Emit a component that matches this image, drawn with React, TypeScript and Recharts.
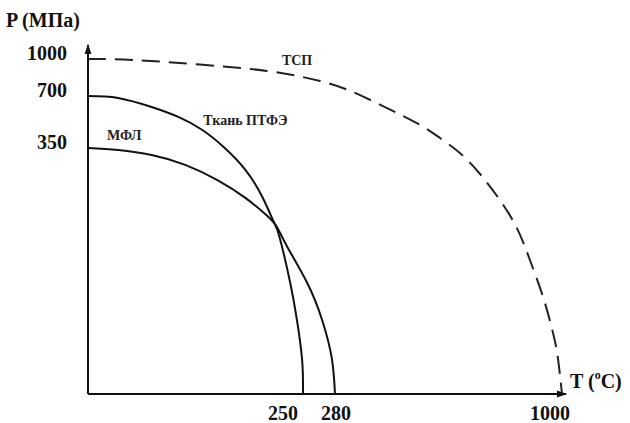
import React from "react";
import { LineChart, Line, XAxis, YAxis, LabelList } from "recharts";

// Schematic axes: tick values and where they sit on the (non-linear) axes
const T_KNOTS = [0, 250, 280, 1000];
const P_KNOTS = [0, 350, 700, 1000];
const X_TICK_LABELS = [250, 280, 1000];
const Y_TICK_LABELS = [350, 700, 1000];

// Series: temperature (°C) and pressure (MPa)
const tkanT = [0, 35, 74, 105, 133, 159, 183, 202, 216, 223, 235, 243, 249, 250];
const tkanP = [700, 687, 626, 559, 471, 350, 319, 282, 245, 222, 159, 105, 48, 0];

const mflT = [0, 35, 74, 113, 151, 183, 206, 219, 231, 254, 268, 277, 280];
const mflP = [350, 347, 340, 326, 304, 279, 256, 239, 211, 158, 105, 51, 0];

const tspT = [0, 52, 130, 208, 266, 337, 445, 550, 613, 676, 740, 803, 857, 898, 940, 971, 987, 1000];
const tspP = [1000, 992, 955, 903, 822, 732, 619, 505, 417, 343, 313, 276, 236, 191, 138, 88, 51, 0];

// layout of the schematic (display units on each axis)
const X_POS = [0, 215, 247, 474];
const Y_POS = [0, 246, 298, 335];

const piece = (v: number, k: number[], p: number[]) => {
  for (let i = 1; i < k.length; i++) {
    if (v <= k[i]) {
      return p[i - 1] + ((v - k[i - 1]) / (k[i] - k[i - 1])) * (p[i] - p[i - 1]);
    }
  }
  return p[p.length - 1];
};
const mapT = (t: number) => piece(t, T_KNOTS, X_POS);
const mapP = (v: number) => piece(v, P_KNOTS, Y_POS);

const build = (ts: number[], ps: number[]) => ts.map((t, i) => ({ x: mapT(t), y: mapP(ps[i]) }));
const tkanData = build(tkanT, tkanP);
const mflData = build(mflT, mflP);
const tspData = build(tspT, tspP);

const FONT = '"Liberation Serif", "Times New Roman", serif';

const X_DX = [-20, 1, -12];

const XTick = (props: any) => {
  const { x, y, index } = props;
  return (
    <text x={x + X_DX[index]} y={y + 18} textAnchor="middle" fontFamily={FONT} fontWeight="bold" fontSize={20} fill="#111">
      {X_TICK_LABELS[index]}
    </text>
  );
};

const YTick = (props: any) => {
  const { x, y, index } = props;
  return (
    <text x={x - 13} y={y + 1} textAnchor="end" fontFamily={FONT} fontWeight="bold" fontSize={20} fill="#111">
      {Y_TICK_LABELS[index]}
    </text>
  );
};

const seriesLabel = (text: string, idx: number, dx: number, dy: number) => (props: any) =>
  props.index === idx ? (
    <text x={props.x + dx} y={props.y + dy} fontFamily={FONT} fontWeight="bold" fontSize={14} fill="#222">
      {text}
    </text>
  ) : null;

export default function App() {
  return (
    <div style={{ position: "absolute", left: 0, top: 0, width: 630, height: 423, background: "#fff" }}>
      <svg width={0} height={0} style={{ position: "absolute" }}>
        <defs>
          <marker id="arrowHead" markerWidth={10} markerHeight={8} refX={9} refY={4} orient="auto-start-reverse" markerUnits="userSpaceOnUse">
            <path d="M0,0.5 L10,4 L0,7.5 z" fill="#111" />
          </marker>
        </defs>
      </svg>
      <LineChart width={630} height={423} margin={{ top: 45, right: 64, bottom: 0, left: 0 }}>
        <XAxis
          type="number"
          dataKey="x"
          domain={[0, 478]}
          ticks={X_TICK_LABELS.map(mapT)}
          tick={<XTick />}
          tickLine={false}
          height={29}
          axisLine={{ stroke: "#111", strokeWidth: 2, markerEnd: "url(#arrowHead)" } as any}
          allowDataOverflow
          label={{
            content: (p: any) => {
              const vb = p.viewBox || { x: 88, y: 394, width: 478 };
              return (
                <text x={vb.x + vb.width + 4} y={vb.y - 6} fontFamily={FONT} fontWeight="bold" fontSize={20} fill="#111">
                  T (<tspan fontSize={12} dy={-9}>o</tspan>
                  <tspan dy={9}>C)</tspan>
                </text>
              );
            },
          }}
        />
        <YAxis
          type="number"
          dataKey="y"
          domain={[0, 349]}
          ticks={Y_TICK_LABELS.map(mapP)}
          tick={<YTick />}
          tickLine={false}
          width={88}
          axisLine={{ stroke: "#111", strokeWidth: 2, markerStart: "url(#arrowHead)" } as any}
          allowDataOverflow
          label={{
            content: (p: any) => {
              const vb = p.viewBox || { x: 0, y: 45 };
              return (
                <text x={vb.x + 6} y={vb.y - 18} fontFamily={FONT} fontWeight="bold" fontSize={20} fill="#111">
                  P (МПа)
                </text>
              );
            },
          }}
        />
        <Line
          data={tspData}
          dataKey="y"
          type="natural"
          stroke="#222"
          strokeWidth={2}
          strokeDasharray="18 9"
          dot={false}
          isAnimationActive={false}
        >
          <LabelList dataKey="y" content={seriesLabel("ТСП", 3, 15, -6)} />
        </Line>
        <Line data={tkanData} dataKey="y" type="natural" stroke="#111" strokeWidth={2} dot={false} isAnimationActive={false}>
          <LabelList dataKey="y" content={seriesLabel("Ткань ПТФЭ", 3, 25, 8)} />
        </Line>
        <Line data={mflData} dataKey="y" type="natural" stroke="#111" strokeWidth={2} dot={false} isAnimationActive={false}>
          <LabelList dataKey="y" content={seriesLabel("МФЛ", 1, -11, -10)} />
        </Line>
      </LineChart>
    </div>
  );
}
